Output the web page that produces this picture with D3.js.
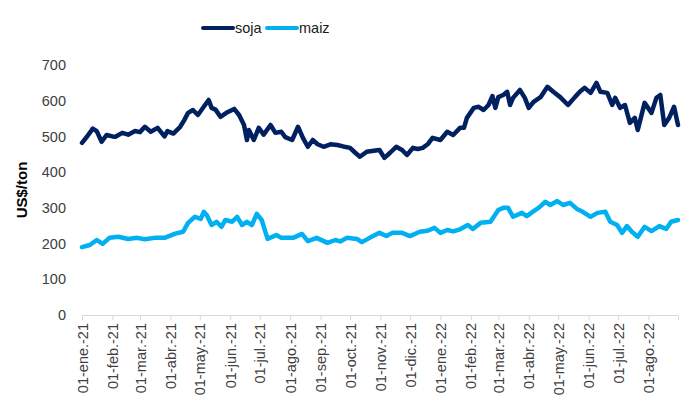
<!DOCTYPE html>
<html>
<head>
<meta charset="utf-8">
<script src="https://cdn.jsdelivr.net/npm/d3@7"></script>
<style>
  body { margin: 0; background: #fff; }
  svg text { font-family: "Liberation Sans", Arial, sans-serif; }
</style>
</head>
<body>
<svg id="chart" width="700" height="420"></svg>
<script>
// soja prices, US$/ton
const sojaDates = ["2021-01-01","2021-01-06","2021-01-12","2021-01-16","2021-01-21","2021-01-26","2021-02-01","2021-02-04","2021-02-11","2021-02-17","2021-02-24",
  "2021-03-01","2021-03-06","2021-03-12","2021-03-19","2021-03-26","2021-03-29","2021-04-04","2021-04-11","2021-04-15","2021-04-19","2021-04-24","2021-04-29",
  "2021-05-05","2021-05-10","2021-05-13","2021-05-17","2021-05-22","2021-05-28","2021-06-05","2021-06-10","2021-06-15","2021-06-18","2021-06-20","2021-06-25","2021-06-30",
  "2021-07-05","2021-07-12","2021-07-17","2021-07-23","2021-07-27","2021-08-03","2021-08-09","2021-08-14","2021-08-19","2021-08-24","2021-08-29",
  "2021-09-04","2021-09-11","2021-09-18","2021-09-24","2021-10-01","2021-10-06","2021-10-11","2021-10-18","2021-10-25","2021-10-31",
  "2021-11-05","2021-11-11","2021-11-17","2021-11-23","2021-11-28","2021-12-04","2021-12-09","2021-12-14","2021-12-19","2021-12-24",
  "2022-01-01","2022-01-08","2022-01-14","2022-01-21","2022-01-25","2022-01-28","2022-02-04","2022-02-09","2022-02-14","2022-02-19","2022-02-23","2022-02-26",
  "2022-03-01","2022-03-06","2022-03-10","2022-03-13","2022-03-16","2022-03-23","2022-03-28","2022-04-01","2022-04-06","2022-04-13","2022-04-20","2022-04-26",
  "2022-05-03","2022-05-11","2022-05-18","2022-05-23","2022-05-28","2022-06-03","2022-06-09","2022-06-13","2022-06-20","2022-06-25","2022-06-28",
  "2022-07-03","2022-07-08","2022-07-13","2022-07-18","2022-07-21","2022-07-28","2022-08-04","2022-08-09","2022-08-13","2022-08-17","2022-08-22","2022-08-27","2022-08-31"];
const sojaValues = [482,499,522,515,485,504,500,499,510,505,515,
  512,527,513,524,500,515,508,527,545,566,574,560,
  583,602,580,575,555,566,577,560,532,490,518,490,524,
  505,532,510,513,498,490,527,496,471,490,478,
  471,478,476,472,468,455,443,457,460,462,
  440,455,471,462,448,468,465,468,478,496,
  490,513,504,524,524,552,580,583,574,588,613,580,
  610,616,625,588,608,630,608,580,597,610,639,625,
  610,588,610,625,636,622,650,625,622,588,608,
  580,588,538,552,518,594,566,608,616,532,552,583,532];

// maiz prices, US$/ton
const maizDates = ["2021-01-01","2021-01-09","2021-01-16","2021-01-22","2021-01-29","2021-02-07","2021-02-17","2021-02-26",
  "2021-03-06","2021-03-16","2021-03-26","2021-04-06","2021-04-14","2021-04-19","2021-04-26",
  "2021-05-02","2021-05-05","2021-05-08","2021-05-13","2021-05-18","2021-05-23","2021-05-27",
  "2021-06-03","2021-06-08","2021-06-13","2021-06-18","2021-06-23","2021-06-28",
  "2021-07-03","2021-07-09","2021-07-18","2021-07-23","2021-08-04","2021-08-13","2021-08-19","2021-08-28",
  "2021-09-08","2021-09-16","2021-09-21","2021-09-28","2021-10-08","2021-10-13","2021-10-21","2021-10-31",
  "2021-11-07","2021-11-13","2021-11-23","2021-12-01","2021-12-11","2021-12-19","2021-12-26",
  "2022-01-01","2022-01-08","2022-01-14","2022-01-21","2022-01-29","2022-02-03","2022-02-11","2022-02-21",
  "2022-03-01","2022-03-06","2022-03-11","2022-03-16","2022-03-25","2022-03-30",
  "2022-04-06","2022-04-11","2022-04-18","2022-04-23","2022-04-30",
  "2022-05-06","2022-05-13","2022-05-20","2022-05-26","2022-06-03","2022-06-10","2022-06-18","2022-06-23","2022-06-30",
  "2022-07-05","2022-07-10","2022-07-15","2022-07-21","2022-07-28","2022-08-04","2022-08-12","2022-08-19","2022-08-24","2022-08-31"];
const maizValues = [190,196,210,199,216,219,213,216,
  212,216,216,228,233,258,275,
  269,289,280,252,261,247,266,
  261,275,252,261,252,283,
  266,213,224,216,216,227,207,216,
  202,210,206,216,213,204,216,230,
  221,230,230,221,233,236,244,
  230,238,234,240,252,241,258,261,
  294,300,300,275,286,277,
  291,300,317,308,319,
  308,314,297,289,275,286,289,261,252,
  230,249,233,219,247,235,249,241,261,266];

const yTicks = [0, 100, 200, 300, 400, 500, 600, 700];
const monthNames = ["ene.","feb.","mar.","abr.","may.","jun.","jul.","ago.","sep.","oct.","nov.","dic."];

const svg = d3.select("#chart");
const margin = {top: 65, right: 22, bottom: 105, left: 82};
const width = +svg.attr("width") - margin.left - margin.right;
const height = +svg.attr("height") - margin.top - margin.bottom;

const parse = d3.timeParse("%Y-%m-%d");
const soja = sojaDates.map((d, i) => ({date: parse(d), value: sojaValues[i]}));
const maiz = maizDates.map((d, i) => ({date: parse(d), value: maizValues[i]}));

const x = d3.scaleTime()
    .domain([parse("2021-01-01"), parse("2022-08-31")])
    .range([0, width]);
const y = d3.scaleLinear().domain([0, 700]).range([height, 0]);

const g = svg.append("g").attr("transform", `translate(${margin.left},${margin.top})`);

// y labels, no axis line
g.append("g")
    .call(d3.axisLeft(y).tickValues(yTicks).tickSize(0).tickPadding(16))
    .call(a => a.select(".domain").remove())
    .selectAll("text")
    .attr("font-size", 14.5)
    .attr("fill", "#404040");

// x axis with monthly ticks, labels rotated
const fmt = d => `01-${monthNames[d.getMonth()]}-${String(d.getFullYear()).slice(2)}`;
const xAxis = g.append("g")
    .attr("transform", `translate(0,${height})`)
    .call(d3.axisBottom(x).ticks(d3.timeMonth.every(1)).tickFormat(fmt).tickSizeInner(5).tickSizeOuter(5));
xAxis.select(".domain").attr("stroke", "#d9d9d9");
xAxis.selectAll(".tick line").attr("stroke", "#d9d9d9");
xAxis.selectAll("text")
    .attr("font-size", 14.5)
    .attr("fill", "#404040")
    .attr("transform", "rotate(-90)")
    .attr("text-anchor", "end")
    .attr("dx", "-8")
    .attr("dy", "0.35em")
    .attr("y", 0);

// y title
svg.append("text")
    .attr("transform", `translate(27,${margin.top + height / 2}) rotate(-90)`)
    .attr("text-anchor", "middle")
    .attr("font-size", 15)
    .attr("font-weight", "bold")
    .attr("fill", "#000")
    .text("US$/ton");

const line = d3.line().x(d => x(d.date)).y(d => y(d.value));

const series = [
  {name: "soja", data: soja, color: "#002060"},
  {name: "maiz", data: maiz, color: "#00b0f0"}
];

g.selectAll(".series")
    .data(series)
    .join("path")
    .attr("class", "series")
    .attr("fill", "none")
    .attr("stroke", d => d.color)
    .attr("stroke-width", 4.5)
    .attr("stroke-linejoin", "round")
    .attr("stroke-linecap", "round")
    .attr("d", d => line(d.data));

// legend at top
const legend = svg.append("g").attr("transform", "translate(203,28)");
const item = legend.selectAll("g")
    .data(series)
    .join("g")
    .attr("transform", (d, i) => `translate(${i * 64},0)`);
item.append("line")
    .attr("x1", 0).attr("x2", 30)
    .attr("stroke", d => d.color)
    .attr("stroke-width", 4)
    .attr("stroke-linecap", "round");
item.append("text")
    .attr("x", 32)
    .attr("dy", "0.35em")
    .attr("font-size", 14.5)
    .attr("fill", "#1a1a1a")
    .text(d => d.name);
</script>
</body>
</html>
